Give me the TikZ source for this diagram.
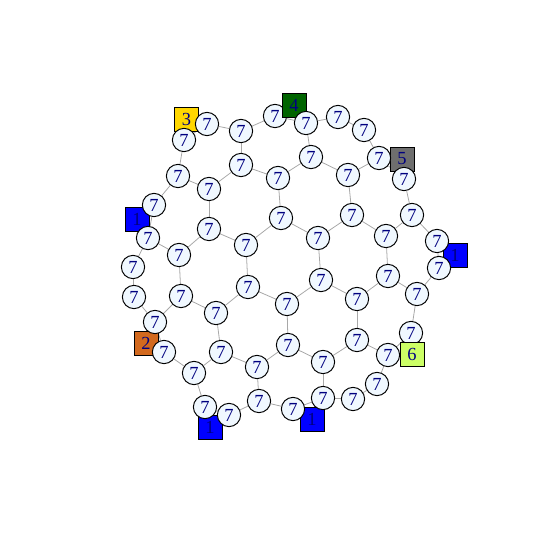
\documentclass[tikz,border=0pt]{standalone}
\usepackage{fontspec}
\setmainfont{Liberation Serif}
\usetikzlibrary{backgrounds}
\definecolor{vfill}{HTML}{F0F8FF}
\definecolor{lab}{HTML}{000080}
\definecolor{edgec}{HTML}{A8A8A8}
\definecolor{cgold}{HTML}{FFD700}
\definecolor{cdkgreen}{HTML}{006400}
\definecolor{cgray}{HTML}{6E6E6E}
\definecolor{cblue}{HTML}{0000FF}
\definecolor{cchoc}{HTML}{D2691E}
\definecolor{clime}{HTML}{CCFF66}
\tikzset{
  vc/.style={circle,draw=black,line width=0.55pt,fill=vfill,minimum size=0.465cm,inner sep=0pt,
    text=lab,font=\fontsize{10.5}{10.5}\selectfont},
  vs/.style={rectangle,draw=black,line width=0.55pt,minimum size=0.48cm,inner sep=0pt,
    text=lab,font=\fontsize{10.5}{10.5}\selectfont},
  ed/.style={draw=edgec,line width=0.45pt}
}
\begin{document}
\begin{tikzpicture}[x=0.02cm,y=-0.02cm]
\useasboundingbox (0,0) rectangle (550,550);
% circles drawn under squares
\node[vc] (A3) at (275,116) {7};
\node[vc] (G39) at (411,333) {7};
% squares
\node[vs,fill=cgold] (s3) at (186.5,119.5) {3};
\node[vs,fill=cdkgreen] (s4) at (294,105) {4};
\node[vs,fill=cgray] (s5) at (402,159) {5};
\node[vs,fill=cblue] (s1a) at (137,219) {1};
\node[vs,fill=cblue] (s1b) at (455,255) {1};
\node[vs,fill=cchoc] (s2) at (146,343) {2};
\node[vs,fill=clime] (s6) at (412,354) {6};
\node[vs,fill=cblue] (s1c) at (210,427) {1};
\node[vs,fill=cblue] (s1d) at (312,419) {1};
% circles
\node[vc] (A1) at (207,124) {7};
\node[vc] (A2) at (241,131) {7};
\node[vc] (A4) at (306,123) {7};
\node[vc] (A5) at (338,117) {7};
\node[vc] (A6) at (364,130) {7};
\node[vc] (A7) at (379,158) {7};
\node[vc] (A8) at (404,179) {7};
\node[vc] (A9) at (184,140) {7};
\node[vc] (C10) at (241,165) {7};
\node[vc] (C11) at (311,157) {7};
\node[vc] (C12) at (178,176) {7};
\node[vc] (C13) at (209,189) {7};
\node[vc] (C14) at (278,178) {7};
\node[vc] (C15) at (348,175) {7};
\node[vc] (D16) at (154,205) {7};
\node[vc] (D17) at (148,238) {7};
\node[vc] (D18) at (209,229) {7};
\node[vc] (D19) at (281,218) {7};
\node[vc] (D20) at (352,215) {7};
\node[vc] (D21) at (412,215) {7};
\node[vc] (E22) at (246,245) {7};
\node[vc] (E23) at (318,238) {7};
\node[vc] (E24) at (386,236) {7};
\node[vc] (E25) at (437,241) {7};
\node[vc] (E26) at (179,255) {7};
\node[vc] (E27) at (133,267) {7};
\node[vc] (E28) at (439,268) {7};
\node[vc] (F29) at (321,280) {7};
\node[vc] (F30) at (248,287) {7};
\node[vc] (F31) at (388,276) {7};
\node[vc] (F32) at (134,297) {7};
\node[vc] (F33) at (181,296) {7};
\node[vc] (F34) at (287,304) {7};
\node[vc] (F35) at (357,299) {7};
\node[vc] (F36) at (417,294) {7};
\node[vc] (G37) at (216,313) {7};
\node[vc] (G38) at (155,322) {7};
\node[vc] (G40) at (288,345) {7};
\node[vc] (G41) at (357,340) {7};
\node[vc] (G42) at (164,352) {7};
\node[vc] (G43) at (221,352) {7};
\node[vc] (H44) at (323,362) {7};
\node[vc] (H45) at (388,355) {7};
\node[vc] (H46) at (257,367) {7};
\node[vc] (H47) at (194,373) {7};
\node[vc] (H48) at (377,384) {7};
\node[vc] (I49) at (205,407) {7};
\node[vc] (I50) at (229,415) {7};
\node[vc] (I51) at (259,401) {7};
\node[vc] (I52) at (323,398) {7};
\node[vc] (I53) at (353,399) {7};
\node[vc] (I54) at (293,409) {7};
\begin{scope}[on background layer]
\foreach \a/\b in {A1/A2,A2/A3,A3/A4,A4/A5,A5/A6,A6/A7,A7/A8,A8/D21,D21/E25,E25/E28,
  E28/F36,F36/G39,G39/H45,H45/H48,H48/I53,I53/I52,I52/I54,I54/I51,I51/I50,I50/I49,
  I49/H47,H47/G42,G42/G38,G38/F32,F32/E27,E27/D17,D17/D16,D16/C12,C12/A9,A9/A1,
  A2/C10,C10/C14,C10/C13,C12/C13,C13/D18,A4/C11,C11/C14,C11/C15,A7/C15,C15/D20,
  C14/D19,D17/E26,E26/D18,E26/F33,D18/E22,E22/F30,E22/D19,F33/G37,G37/F30,F33/G38,
  D19/E23,E23/F29,E23/D20,D20/E24,E24/D21,E24/F31,F31/F36,F31/F35,F29/F35,F29/F34,
  F30/F34,F35/G41,F34/G40,G40/H46,G40/H44,H44/G41,G41/H45,H44/I52,G43/H47,G43/G37,
  G43/H46,H46/I51}
  \draw[ed] (\a) -- (\b);
\end{scope}
\end{tikzpicture}
\end{document}
